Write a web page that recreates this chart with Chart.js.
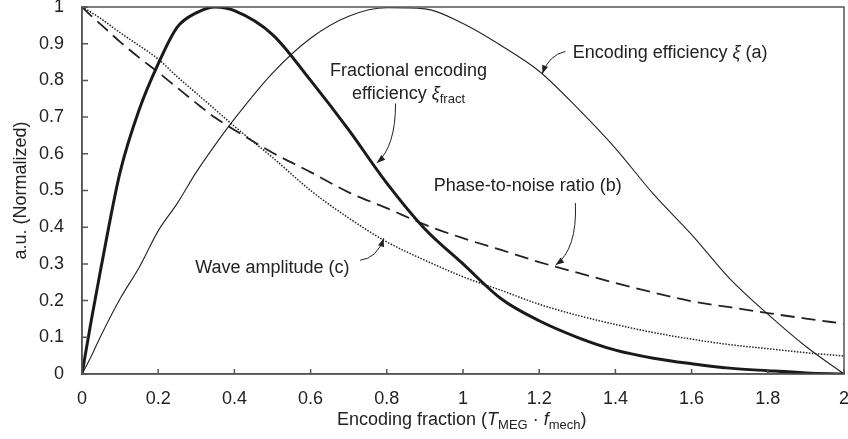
<!DOCTYPE html>
<html>
<head>
<meta charset="utf-8">
<script src="https://cdn.jsdelivr.net/npm/chart.js"></script>
<style>
  html, body { margin: 0; padding: 0; background: #fff; }
  #wrap { width: 848px; height: 439px; }
</style>
</head>
<body>
<div id="wrap"><canvas id="chart"></canvas></div>
<script>
// encoding fraction (T_MEG * f_mech)
const xValues = [0, 0.025, 0.05, 0.1, 0.15, 0.2, 0.25, 0.3, 0.35, 0.4, 0.5, 0.6, 0.7, 0.8, 0.9,
  1.0, 1.1, 1.2, 1.3, 1.4, 1.5, 1.6, 1.7, 1.8, 1.9, 2.0];

const fractEfficiency = [0, 0.15, 0.29, 0.55, 0.72, 0.845, 0.945, 0.984, 1.0, 0.99, 0.925, 0.80, 0.665, 0.52, 0.395,
  0.30, 0.205, 0.145, 0.10, 0.065, 0.043, 0.028, 0.016, 0.009, 0.003, 0];
const encodingEfficiency = [0, 0.05, 0.105, 0.205, 0.29, 0.39, 0.465, 0.55, 0.625, 0.695, 0.82, 0.915, 0.975, 0.998, 0.995,
  0.955, 0.895, 0.825, 0.725, 0.615, 0.49, 0.38, 0.26, 0.163, 0.075, 0];
const phaseToNoise = [1.0, 0.975, 0.952, 0.905, 0.862, 0.822, 0.78, 0.738, 0.698, 0.665, 0.603, 0.55, 0.495, 0.452, 0.407,
  0.37, 0.338, 0.305, 0.276, 0.248, 0.222, 0.198, 0.182, 0.166, 0.151, 0.137];
const waveAmplitude = [1.0, 0.985, 0.968, 0.93, 0.895, 0.858, 0.81, 0.765, 0.72, 0.675, 0.59, 0.50, 0.425, 0.36, 0.31,
  0.265, 0.228, 0.19, 0.16, 0.135, 0.113, 0.095, 0.08, 0.069, 0.058, 0.049];

const xTicks = [0, 0.2, 0.4, 0.6, 0.8, 1, 1.2, 1.4, 1.6, 1.8, 2];
const yTicks = [0, 0.1, 0.2, 0.3, 0.4, 0.5, 0.6, 0.7, 0.8, 0.9, 1];

const FONT = "'Liberation Sans', Arial, sans-serif";
const INK = '#222';
const AXIS = '#555';

function pts(ys) { return xValues.map((x, i) => ({ x: x, y: ys[i] })); }

// labels and arrows, in data units
const labels = [
  { x: 1.288, y: 0.879, parts: [['Encoding efficiency '], ['ξ', 'i'], [' (a)']], align: 'left' },
  { x: 0.857, y: 0.829, parts: [['Fractional encoding']], align: 'center' },
  { x: 0.857, y: 0.766, parts: [['efficiency '], ['ξ', 'i'], ['fract', 's']], align: 'center' },
  { x: 0.923, y: 0.515, parts: [['Phase-to-noise ratio (b)']], align: 'left' },
  { x: 0.297, y: 0.294, parts: [['Wave amplitude (c)']], align: 'left' }
];
const arrows = [
  { from: [1.269, 0.879], ctrl: [1.226, 0.870], to: [1.208, 0.818] },
  { from: [0.823, 0.737], ctrl: [0.823, 0.620], to: [0.774, 0.575] },
  { from: [1.295, 0.466], ctrl: [1.300, 0.340], to: [1.243, 0.297] },
  { from: [0.730, 0.310], ctrl: [0.774, 0.315], to: [0.792, 0.370] }
];

function drawParts(ctx, parts, x, y, align) {
  const big = '18px ' + FONT, small = '13px ' + FONT, ital = 'italic 18px ' + FONT;
  const fontOf = p => p[1] === 's' ? small : (p[1] === 'i' ? ital : big);
  let w = 0;
  parts.forEach(p => { ctx.font = fontOf(p); w += ctx.measureText(p[0]).width; });
  let cx = align === 'center' ? x - w / 2 : x;
  ctx.textBaseline = 'alphabetic';
  ctx.textAlign = 'left';
  parts.forEach(p => {
    ctx.font = fontOf(p);
    ctx.fillText(p[0], cx, y + 6.5 + (p[1] === 's' ? 4 : 0));
    cx += ctx.measureText(p[0]).width;
  });
}

const overlay = {
  id: 'overlay',
  afterDraw(chart) {
    const ctx = chart.ctx, a = chart.chartArea;
    const xs = chart.scales.x, ys = chart.scales.y;
    ctx.save();
    // frame
    ctx.strokeStyle = AXIS;
    ctx.lineWidth = 1.5;
    ctx.strokeRect(a.left, a.top, a.right - a.left, a.bottom - a.top);
    // inward ticks
    ctx.beginPath();
    xTicks.forEach(v => {
      const px = xs.getPixelForValue(v);
      ctx.moveTo(px, a.bottom); ctx.lineTo(px, a.bottom - 5);
    });
    yTicks.forEach(v => {
      const py = ys.getPixelForValue(v);
      ctx.moveTo(a.left, py); ctx.lineTo(a.left + 6, py);
    });
    ctx.stroke();

    // labels
    ctx.fillStyle = INK;
    labels.forEach(l => drawParts(ctx, l.parts, xs.getPixelForValue(l.x), ys.getPixelForValue(l.y), l.align));

    // arrows
    ctx.strokeStyle = INK;
    ctx.fillStyle = INK;
    ctx.lineWidth = 1;
    arrows.forEach(ar => {
      const f = [xs.getPixelForValue(ar.from[0]), ys.getPixelForValue(ar.from[1])];
      const c = [xs.getPixelForValue(ar.ctrl[0]), ys.getPixelForValue(ar.ctrl[1])];
      const t = [xs.getPixelForValue(ar.to[0]), ys.getPixelForValue(ar.to[1])];
      ctx.beginPath();
      ctx.moveTo(f[0], f[1]);
      ctx.quadraticCurveTo(c[0], c[1], t[0], t[1]);
      ctx.stroke();
      const ang = Math.atan2(t[1] - c[1], t[0] - c[0]);
      ctx.beginPath();
      ctx.moveTo(t[0], t[1]);
      ctx.lineTo(t[0] - 9 * Math.cos(ang - 0.35), t[1] - 9 * Math.sin(ang - 0.35));
      ctx.lineTo(t[0] - 9 * Math.cos(ang + 0.35), t[1] - 9 * Math.sin(ang + 0.35));
      ctx.closePath();
      ctx.fill();
    });

    // axis titles
    ctx.fillStyle = INK;
    drawParts(ctx, [['Encoding fraction ('], ['T', 'i'], ['MEG', 's'], [' · '], ['f', 'i'], ['mech', 's'], [')']],
      337, 418.5, 'left');
    ctx.translate(19, (a.top + a.bottom) / 2);
    ctx.rotate(-Math.PI / 2);
    drawParts(ctx, [['a.u. (Normalized)']], 0, 0, 'center');
    ctx.restore();
  }
};

const fmt = v => String(Math.round(v * 10) / 10);

new Chart(document.getElementById('chart'), {
  type: 'line',
  data: {
    datasets: [
      { label: 'Fractional encoding efficiency', data: pts(fractEfficiency), borderColor: '#1a1a1a', borderWidth: 3 },
      { label: 'Encoding efficiency', data: pts(encodingEfficiency), borderColor: INK, borderWidth: 1.1 },
      { label: 'Phase-to-noise ratio', data: pts(phaseToNoise), borderColor: INK, borderWidth: 1.8, borderDash: [14, 7] },
      { label: 'Wave amplitude', data: pts(waveAmplitude), borderColor: INK, borderWidth: 1.5, borderDash: [1.5, 1.5] }
    ]
  },
  options: {
    responsive: true,
    maintainAspectRatio: false,
    animation: false,
    layout: { padding: { top: 7, right: 4, left: 0, bottom: 0 } },
    elements: { point: { radius: 0 }, line: { cubicInterpolationMode: 'monotone', fill: false } },
    plugins: { legend: { display: false }, tooltip: { enabled: false } },
    scales: {
      x: {
        type: 'linear', min: 0, max: 2,
        grid: { display: false },
        border: { display: true, color: AXIS, width: 1.5 },
        afterBuildTicks: s => { s.ticks = xTicks.map(v => ({ value: v })); },
        afterFit: s => { s.height = 65; s.paddingLeft = 0; s.paddingRight = 0; },
        ticks: { color: INK, font: { family: FONT, size: 18 }, padding: 6, maxRotation: 0, callback: fmt }
      },
      y: {
        min: 0, max: 1,
        grid: { display: false },
        border: { display: true, color: AXIS, width: 1.5 },
        afterBuildTicks: s => { s.ticks = yTicks.map(v => ({ value: v })); },
        afterFit: s => { s.width = 82; s.paddingTop = 0; s.paddingBottom = 0; },
        ticks: { color: INK, font: { family: FONT, size: 18 }, padding: 10, callback: fmt }
      }
    }
  },
  plugins: [overlay]
});
</script>
</body>
</html>
